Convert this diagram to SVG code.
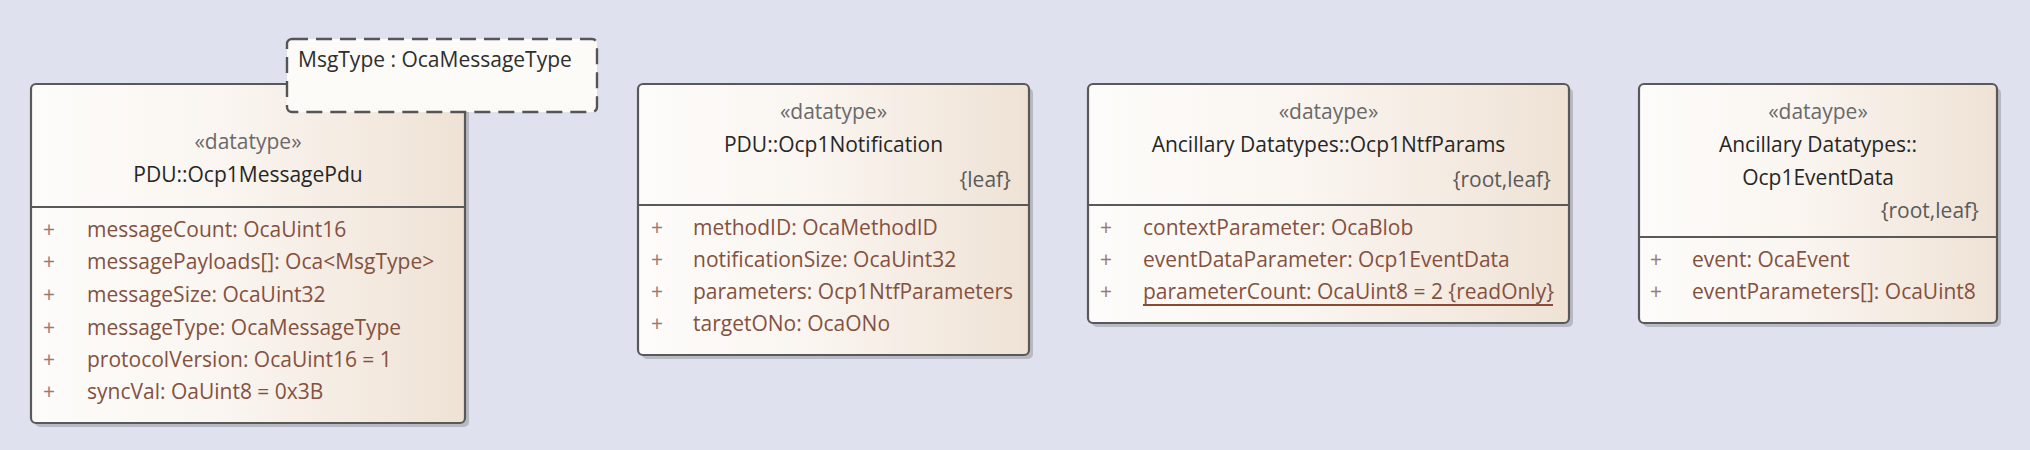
<svg xmlns="http://www.w3.org/2000/svg" width="2030" height="450" viewBox="0 0 2030 450">
  <defs>
    <linearGradient id="fillGrad" x1="0" y1="0" x2="1" y2="0">
      <stop offset="0" stop-color="#fdfcfa"/>
      <stop offset="0.45" stop-color="#faf5f0"/>
      <stop offset="1" stop-color="#efe2d5"/>
    </linearGradient>
  </defs>
  <style>
    text { font-family: "Open Sans", "Noto Sans", "Liberation Sans", sans-serif; font-size: 21px; }
    .shadow { fill: #a9acb6; opacity: 0.75; }
    .box { fill: url(#fillGrad); stroke: #595959; stroke-width: 2.2; }
    .div { stroke: #595959; stroke-width: 2.2; }
    .stereo { fill: #6a6a6a; text-anchor: middle; }
    .title { fill: #262626; text-anchor: middle; }
    .constr { fill: #5a5a5a; text-anchor: end; }
    .vis { fill: #9a7a70; }
    .attr { fill: #84513f; }
    .tmpl { fill: #fcfbf8; stroke: #555555; stroke-width: 2.4; stroke-dasharray: 16 8; }
    .tmpltxt { fill: #2e2e2e; }
    .uline { stroke: #8b4a32; stroke-width: 1.8; }
  </style>
  <rect x="0" y="0" width="2030" height="450" fill="#dfe2ee"/>

  <g id="connectors"/>

  <g id="Ocp1MessagePdu">
    <rect class="shadow" x="35" y="88" width="434" height="339" rx="5"/>
    <rect class="box" x="31" y="84" width="434" height="339" rx="5"/>
    <line class="div" x1="31" y1="207" x2="465" y2="207"/>
    <text class="stereo" x="248" y="149">«datatype»</text>
    <text class="title" x="248" y="182">PDU::Ocp1MessagePdu</text>
    <text class="vis" x="43" y="237">+</text><text class="attr" x="87" y="237">messageCount: OcaUint16</text>
    <text class="vis" x="43" y="269">+</text><text class="attr" x="87" y="269">messagePayloads[]: Oca&lt;MsgType&gt;</text>
    <text class="vis" x="43" y="302">+</text><text class="attr" x="87" y="302">messageSize: OcaUint32</text>
    <text class="vis" x="43" y="335">+</text><text class="attr" x="87" y="335">messageType: OcaMessageType</text>
    <text class="vis" x="43" y="367">+</text><text class="attr" x="87" y="367">protocolVersion: OcaUint16 = 1</text>
    <text class="vis" x="43" y="399">+</text><text class="attr" x="87" y="399">syncVal: OaUint8 = 0x3B</text>
  </g>

  <g id="MsgTypeTemplate">
    <rect class="tmpl" x="287" y="39" width="310" height="73" rx="5"/>
    <text class="tmpltxt" x="298" y="67">MsgType : OcaMessageType</text>
  </g>

  <g id="Ocp1Notification">
    <rect class="shadow" x="642" y="88" width="391" height="271" rx="5"/>
    <rect class="box" x="638" y="84" width="391" height="271" rx="5"/>
    <line class="div" x1="638" y1="205" x2="1029" y2="205"/>
    <text class="stereo" x="833.5" y="119">«datatype»</text>
    <text class="title" x="833.5" y="152">PDU::Ocp1Notification</text>
    <text class="constr" x="1011" y="187">{leaf}</text>
    <text class="vis" x="651" y="235">+</text><text class="attr" x="693" y="235">methodID: OcaMethodID</text>
    <text class="vis" x="651" y="267">+</text><text class="attr" x="693" y="267">notificationSize: OcaUint32</text>
    <text class="vis" x="651" y="299">+</text><text class="attr" x="693" y="299">parameters: Ocp1NtfParameters</text>
    <text class="vis" x="651" y="331">+</text><text class="attr" x="693" y="331">targetONo: OcaONo</text>
  </g>

  <g id="Ocp1NtfParams">
    <rect class="shadow" x="1092" y="88" width="481" height="239" rx="5"/>
    <rect class="box" x="1088" y="84" width="481" height="239" rx="5"/>
    <line class="div" x1="1088" y1="205" x2="1569" y2="205"/>
    <text class="stereo" x="1328.5" y="119">«dataype»</text>
    <text class="title" x="1328.5" y="152">Ancillary Datatypes::Ocp1NtfParams</text>
    <text class="constr" x="1551" y="187">{root,leaf}</text>
    <text class="vis" x="1100" y="235">+</text><text class="attr" x="1143" y="235">contextParameter: OcaBlob</text>
    <text class="vis" x="1100" y="267">+</text><text class="attr" x="1143" y="267">eventDataParameter: Ocp1EventData</text>
    <text class="vis" x="1100" y="299">+</text><text class="attr" x="1143" y="299">parameterCount: OcaUint8 = 2 {readOnly}</text>
    <line class="uline" x1="1143" y1="305" x2="1553" y2="305"/>
  </g>

  <g id="Ocp1EventData">
    <rect class="shadow" x="1643" y="88" width="358" height="239" rx="5"/>
    <rect class="box" x="1639" y="84" width="358" height="239" rx="5"/>
    <line class="div" x1="1639" y1="237" x2="1997" y2="237"/>
    <text class="stereo" x="1818" y="119">«dataype»</text>
    <text class="title" x="1818" y="152">Ancillary Datatypes::</text>
    <text class="title" x="1818" y="185">Ocp1EventData</text>
    <text class="constr" x="1979" y="218">{root,leaf}</text>
    <text class="vis" x="1650" y="267">+</text><text class="attr" x="1692" y="267">event: OcaEvent</text>
    <text class="vis" x="1650" y="299">+</text><text class="attr" x="1692" y="299">eventParameters[]: OcaUint8</text>
  </g>
</svg>
